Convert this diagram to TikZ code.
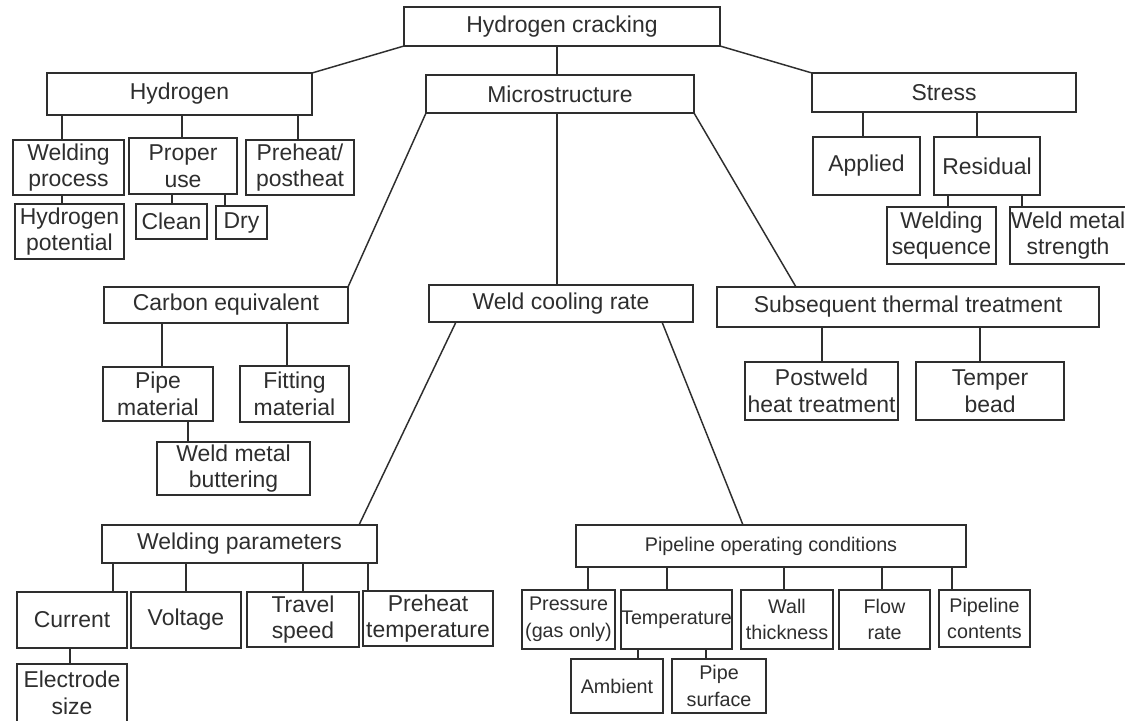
\documentclass[tikz,border=0pt]{standalone}
\usepackage{fontspec}
\setmainfont{Liberation Sans}
\definecolor{ink}{HTML}{2E2E2E}
\newcommand{\nbox}[7][]{%
  \node[hbox, #1, minimum width={(#5-#3)*0.75pt}, minimum height={(#6-#4)*0.75pt}]
    (#2) at ({(#3+#5)/2},{(#4+#6)/2}) {#7};}
\tikzset{
  hbox/.style={draw=ink, line width=1.1pt, rectangle, inner sep=0pt, outer sep=0pt,
    align=center, text=ink, font=\fontsize{17.2}{20}\selectfont},
  small/.style={font=\fontsize{14.8}{20}\selectfont},
  link/.style={draw=ink, line width=1.1pt}
}
\begin{document}
\begin{tikzpicture}[x=0.75pt, y=-0.75pt]
\useasboundingbox (0,0) rectangle (1125,721);
\clip (0,0) rectangle (1125,721);
\fill[white] (0,0) rectangle (1125,721);
% level 0-1
\nbox{hc}{404}{7}{720}{46}{Hydrogen cracking}
\nbox{hyd}{47}{73}{312}{115}{Hydrogen}
\nbox{micro}{426}{75}{694}{113}{Microstructure}
\nbox{stress}{812}{73}{1076}{112}{Stress}
% hydrogen branch
\nbox{wproc}{13}{140}{124}{195}{Welding\\process}
\nbox{puse}{129}{138}{237}{194}{Proper\\use}
\nbox{pre}{246}{140}{354}{195}{Preheat/\\postheat}
\nbox{hpot}{15}{204}{124}{259}{Hydrogen\\potential}
\nbox{clean}{136}{204}{207}{239}{Clean}
\nbox{dry}{216}{206}{267}{239}{Dry}
% stress branch
\nbox{applied}{813}{137}{920}{195}{Applied}
\nbox{resid}{934}{137}{1040}{195}{Residual}
\nbox{wseq}{887}{207}{996}{264}{Welding\\sequence}
\nbox{wms}{1010}{207}{1126}{264}{Weld metal\\strength}
% microstructure branch
\nbox{ce}{104}{287}{348}{323}{Carbon equivalent}
\nbox{pmat}{103}{367}{213}{421}{Pipe\\material}
\nbox{fmat}{240}{366}{349}{422}{Fitting\\material}
\nbox{wmb}{157}{442}{310}{495}{Weld metal\\buttering}
\nbox{wcr}{429}{285}{693}{322}{Weld cooling rate}
\nbox{stt}{717}{287}{1099}{327}{Subsequent thermal treatment}
\nbox{pwht}{745}{362}{898}{420}{Postweld\\heat treatment}
\nbox{temper}{916}{362}{1064}{420}{Temper\\bead}
% welding parameters
\nbox{wpar}{102}{525}{377}{563}{Welding parameters}
\nbox{current}{17}{592}{127}{648}{Current}
\nbox{voltage}{131}{592}{241}{648}{Voltage}
\nbox{travel}{247}{592}{359}{647}{Travel\\speed}
\nbox{pht}{363}{591}{493}{646}{Preheat\\temperature}
\nbox{esize}{17}{664}{127}{722}{Electrode\\size}
% pipeline operating conditions
\nbox[small]{poc}{576}{525}{966}{567}{Pipeline operating conditions}
\nbox[small]{press}{522}{590}{615}{649}{Pressure\\(gas only)}
\nbox[small]{temp}{621}{590}{732}{649}{Temperature}
\nbox[small]{wall}{741}{590}{833}{649}{Wall\\thickness}
\nbox[small]{flow}{839}{590}{930}{649}{Flow\\rate}
\nbox[small]{contents}{939}{590}{1030}{647}{Pipeline\\contents}
\nbox[small]{ambient}{571}{659}{663}{713}{Ambient}
\nbox[small]{psurf}{672}{659}{766}{713}{Pipe\\surface}
% connectors
\draw[link] (hc.south west) -- (hyd.north east);
\draw[link] (557,0 |- hc.south) -- (557,0 |- micro.north);
\draw[link] (hc.south east) -- (stress.north west);
\draw[link] (62,0 |- hyd.south) -- (62,0 |- wproc.north);
\draw[link] (182,0 |- hyd.south) -- (182,0 |- puse.north);
\draw[link] (298,0 |- hyd.south) -- (298,0 |- pre.north);
\draw[link] (62,0 |- wproc.south) -- (62,0 |- hpot.north);
\draw[link] (172,0 |- puse.south) -- (172,0 |- clean.north);
\draw[link] (225,0 |- puse.south) -- (225,0 |- dry.north);
\draw[link] (863,0 |- stress.south) -- (863,0 |- applied.north);
\draw[link] (977,0 |- stress.south) -- (977,0 |- resid.north);
\draw[link] (948,0 |- resid.south) -- (948,0 |- wseq.north);
\draw[link] (1022,0 |- resid.south) -- (1022,0 |- wms.north);
\draw[link] (micro.south west) -- (ce.north east);
\draw[link] (557,0 |- micro.south) -- (557,0 |- wcr.north);
\draw[link] (micro.south east) -- (796,0 |- stt.north);
\draw[link] (162,0 |- ce.south) -- (162,0 |- pmat.north);
\draw[link] (287,0 |- ce.south) -- (287,0 |- fmat.north);
\draw[link] (188,0 |- pmat.south) -- (188,0 |- wmb.north);
\draw[link] (822,0 |- stt.south) -- (822,0 |- pwht.north);
\draw[link] (980,0 |- stt.south) -- (980,0 |- temper.north);
\draw[link] (456,0 |- wcr.south) -- (359,0 |- wpar.north);
\draw[link] (662,0 |- wcr.south) -- (743,0 |- poc.north);
\draw[link] (113,0 |- wpar.south) -- (113,0 |- current.north);
\draw[link] (186,0 |- wpar.south) -- (186,0 |- voltage.north);
\draw[link] (303,0 |- wpar.south) -- (303,0 |- travel.north);
\draw[link] (368,0 |- wpar.south) -- (368,0 |- pht.north);
\draw[link] (70,0 |- current.south) -- (70,0 |- esize.north);
\draw[link] (588,0 |- poc.south) -- (588,0 |- press.north);
\draw[link] (667,0 |- poc.south) -- (667,0 |- temp.north);
\draw[link] (784,0 |- poc.south) -- (784,0 |- wall.north);
\draw[link] (882,0 |- poc.south) -- (882,0 |- flow.north);
\draw[link] (952,0 |- poc.south) -- (952,0 |- contents.north);
\draw[link] (638,0 |- temp.south) -- (638,0 |- ambient.north);
\draw[link] (706,0 |- temp.south) -- (706,0 |- psurf.north);
\end{tikzpicture}
\end{document}
